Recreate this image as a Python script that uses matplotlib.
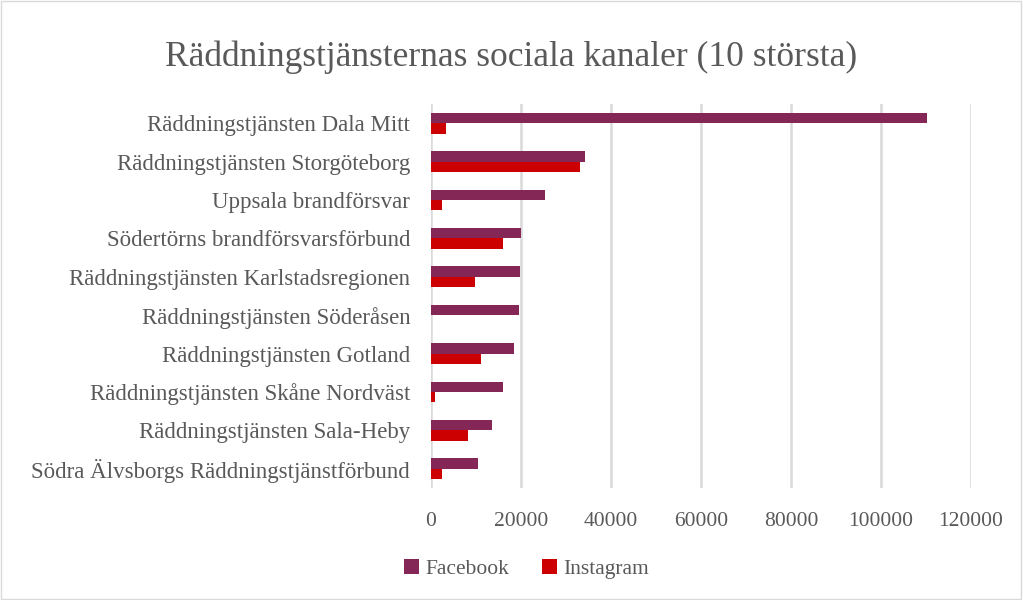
import matplotlib.pyplot as plt
import numpy as np

# Data
kategorier = [
    "Räddningstjänsten Dala Mitt",
    "Räddningstjänsten Storgöteborg",
    "Uppsala brandförsvar",
    "Södertörns brandförsvarsförbund",
    "Räddningstjänsten Karlstadsregionen",
    "Räddningstjänsten Söderåsen",
    "Räddningstjänsten Gotland",
    "Räddningstjänsten Skåne Nordväst",
    "Räddningstjänsten Sala-Heby",
    "Södra Älvsborgs Räddningstjänstförbund",
]
facebook = [110300, 34200, 25300, 20100, 19700, 19500, 18500, 16100, 13500, 10400]
instagram = [3300, 33000, 2400, 16000, 9800, 0, 11200, 900, 8300, 2500]
xticks = [0, 20000, 40000, 60000, 80000, 100000, 120000]

textfarg = "#595959"
plt.rcParams['font.family'] = ['Liberation Serif', 'DejaVu Serif']

fig = plt.figure(figsize=(10.23, 6), dpi=100)
ax = fig.add_axes([431 / 1023, 1 - 488 / 600, 540 / 1023, 384 / 600])

y = np.arange(len(kategorier))
h = 0.27
ax.barh(y - h / 2, facebook, height=h, color="#842656", label="Facebook")
ax.barh(y + h / 2, instagram, height=h, color="#CC0000", label="Instagram")

ax.set_ylim(len(kategorier) - 0.5, -0.5)
ax.set_xlim(0, 120000)
ax.set_yticks(y)
ax.set_yticklabels(kategorier, fontsize=16.5, color=textfarg)
ax.set_xticks(xticks)
ax.set_xticklabels([str(v) for v in xticks], fontsize=15.5, color=textfarg)
ax.tick_params(axis="both", length=0)
ax.tick_params(axis="y", pad=15)
ax.tick_params(axis="x", pad=17)

# Gitterlinien
ax.grid(axis="x", color="#D9D9D9", linewidth=1.8)
ax.set_axisbelow(True)
for s in ax.spines.values():
    s.set_visible(False)

fig.text(0.5, 1 - 57 / 600, "Räddningstjänsternas sociala kanaler (10 största)",
         fontsize=25.5, color=textfarg, ha="center", va="center")

fig.legend(loc="center", bbox_to_anchor=(0.515, 0.052), ncol=2, frameon=False,
           fontsize=15.5, handlelength=0.7, handleheight=0.7, handletextpad=0.3,
           columnspacing=1.5, labelcolor=textfarg)

# Rahmen
fig.patches.append(plt.Rectangle((0.001, 0.002), 0.997, 0.996, transform=fig.transFigure,
                                 fill=False, edgecolor="#D9D9D9", linewidth=1))

fig.savefig("out.png", dpi=100)
